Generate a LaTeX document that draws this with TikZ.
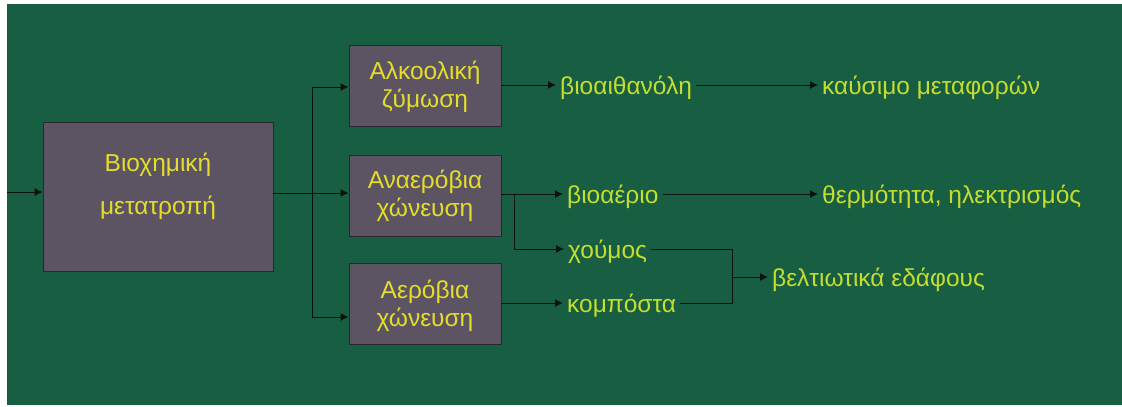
\documentclass[tikz,border=0pt]{standalone}
\usepackage{fontspec}
\setmainfont{Liberation Sans}
\usetikzlibrary{arrows.meta}
\definecolor{bggreen}{RGB}{24,94,66}
\definecolor{boxgray}{RGB}{92,84,98}
\definecolor{boxedge}{RGB}{40,40,44}
\definecolor{boxtext}{RGB}{228,222,42}
\definecolor{outtext}{RGB}{196,222,48}
\definecolor{linecol}{RGB}{10,18,14}
\begin{document}
\begin{tikzpicture}[x=1pt,y=-1pt,
  procbox/.style={draw=boxedge, line width=0.8pt, fill=boxgray, minimum width=152pt, minimum height=81pt, inner sep=0pt},
  bigbox/.style={draw=boxedge, line width=0.8pt, fill=boxgray, minimum width=230pt, minimum height=149pt, inner sep=0pt},
  boxlabel/.style={text=boxtext, align=center, inner sep=0pt, font=\fontsize{24.5}{28}\selectfont},
  biglabel/.style={text=boxtext, align=center, inner sep=0pt, font=\fontsize{24.5}{43}\selectfont},
  prodtext/.style={text=outtext, anchor=west, inner xsep=4pt, inner ysep=0pt, text height=18pt, text depth=0pt, font=\fontsize{24.5}{28}\selectfont},
  conn/.style={draw=linecol, line width=1pt},
  arr/.style={conn, -{Latex[length=8pt,width=8pt]}},
]
\useasboundingbox (0,0) rectangle (1122,407);
\fill[white] (0,0) rectangle (1122,407);
\fill[bggreen] (7,4) rectangle (1122,405);

% boxes
\node[bigbox] (bio) at (158,196.5) {};
\node[biglabel] (biotxt) at (158,186) {Βιοχημική\\μετατροπή};
\node[procbox] (b1) at (425,85.5) {};
\node[boxlabel] (b1txt) at (425,87) {Αλκοολική\\ζύμωση};
\node[procbox] (b2) at (425,195.5) {};
\node[boxlabel] (b2txt) at (425,196) {Αναερόβια\\χώνευση};
\node[procbox] (b3) at (425,303.5) {};
\node[boxlabel] (b3txt) at (425,306) {Αερόβια\\χώνευση};

% products
\node[prodtext] (p1) at (556,85) {βιοαιθανόλη};
\node[prodtext] (q1) at (818,85) {καύσιμο μεταφορών};
\node[prodtext] (p2) at (563,194) {βιοαέριο};
\node[prodtext] (q2) at (818,194) {θερμότητα, ηλεκτρισμός};
\node[prodtext] (p3) at (564,249) {χούμος};
\node[prodtext] (p4) at (563,303) {κομπόστα};
\node[prodtext] (q3) at (768,277) {βελτιωτικά εδάφους};

% input and distribution
\coordinate (in) at (7,192);
\draw[arr] (in) -- (in -| bio.west);
\coordinate (j1) at (312,87);
\coordinate (j2) at (312,193);
\coordinate (j3) at (312,317);
\draw[conn] (j2 -| bio.east) -- (j2);
\draw[conn] (j1) -- (j3);
\draw[arr] (j1) -- (j1 -| b1.west);
\draw[arr] (j2) -- (j2 -| b2.west);
\draw[arr] (j3) -- (j3 -| b3.west);

% process outputs
\draw[arr] (b1.east |- p1.west) -- (p1.west);
\draw[arr] (b2.east |- p2.west) -- (p2.west);
\coordinate (split) at (514,194);
\draw[conn] (split) -- (split |- p3.west);
\draw[arr] (split |- p3.west) -- (p3.west);
\draw[arr] (b3.east |- p4.west) -- (p4.west);

% products to uses
\draw[arr] (p1.east) -- (q1.west);
\draw[arr] (p2.east) -- (q2.west);
\coordinate (merge) at (732,277);
\draw[conn] (p3.east) -- (p3.east -| merge) -- (p4.east -| merge) -- (p4.east);
\draw[arr] (merge) -- (q3.west);
\end{tikzpicture}
\end{document}
